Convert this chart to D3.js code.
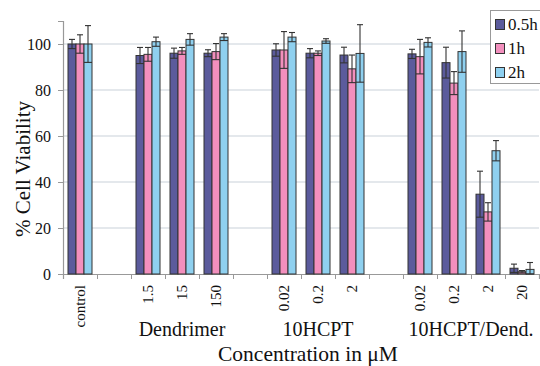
<!DOCTYPE html>
<html>
<head>
<meta charset="utf-8">
<script src="https://cdn.jsdelivr.net/npm/d3@7"></script>
<style>
body { margin: 0; background: #fff; }
svg text { font-family: "Liberation Serif", "DejaVu Serif", serif !important; }
</style>
</head>
<body>
<div id="graph"></div>
<script>
// concentrations along the x axis ("" = empty slot between groups)
const categories = ["control", "", "1.5", "15", "150", "", "0.02", "0.2", "2", "", "0.02", "0.2", "2", "20"];
const groups = [
	{name: "Dendrimer", from: 2, to: 4},
	{name: "10HCPT", from: 6, to: 8},
	{name: "10HCPT/Dend.", from: 10, to: 13}
];
const series = ["0.5h", "1h", "2h"];
const colors = ["#5b5b9c", "#f28fbd", "#8fd0ef"];
const yTicks = [0, 20, 40, 60, 80, 100];

// values, null for the empty slots
const v05 = [100, null, 95, 96, 96, null, 97.4, 96, 95.2, null, 95.7, 91.9, 34.7, 2.5];
const v1 = [100, null, 95.5, 97, 96.7, null, 97.4, 96, 89.2, null, 94.5, 83, 27, 1];
const v2 = [100, null, 101, 102, 103, null, 103, 101.3, 95.9, null, 100.7, 96.7, 53.6, 2];
// error bars (+/-)
const e05 = [2, null, 3.5, 2.2, 1.5, null, 2.7, 2, 3.4, null, 2, 6.7, 10, 1.8];
const e1 = [4, null, 3, 1.5, 3.5, null, 8, 1, 6, null, 7.5, 5, 4, 0.5];
const e2 = [8, null, 2, 2.5, 1.5, null, 2, 1, 12.5, null, 2, 9, 4.4, 3];

const width = 540, height = 366;
const plot_left = 63, plot_right = 539, plot_top = 21, plot_bottom = 274;
const serif = "'Liberation Serif', 'DejaVu Serif', serif";

const svg = d3.select("#graph").append("svg").attr("width", width).attr("height", height)
	.style("font-family", serif);

const y = d3.scaleLinear().domain([0, 110]).range([plot_bottom, plot_top]);
const x = d3.scaleBand().domain(d3.range(categories.length)).range([plot_left, plot_right]);
const xs = d3.scaleBand().domain(series).range([5, x.bandwidth() - 5]);
const xEdge = d3.scaleLinear().domain([0, categories.length]).range([plot_left, plot_right]);

// grid lines
svg.append("g").selectAll("line").data(yTicks.filter(d => d > 0)).join("line")
	.attr("x1", plot_left).attr("x2", plot_right)
	.attr("y1", d => y(d)).attr("y2", d => y(d))
	.attr("stroke", "#c9d2da").attr("stroke-width", 1.2);

// y axis
const yaxis = svg.append("g").attr("transform", `translate(${plot_left},0)`)
	.call(d3.axisLeft(y).tickValues(yTicks).tickSize(5).tickPadding(7));
yaxis.attr("font-family", null).attr("font-size", 16);
yaxis.select(".domain").attr("stroke", "#999").attr("stroke-width", 1.2);
yaxis.selectAll(".tick line").attr("stroke", "#999");
yaxis.selectAll("text").attr("fill", "#111").style("font-family", serif);

// x axis: ticks at slot borders
const xaxis = svg.append("g").attr("transform", `translate(0,${plot_bottom})`)
	.call(d3.axisBottom(xEdge).tickValues(d3.range(categories.length + 1)).tickSize(5).tickFormat(""));
xaxis.select(".domain").attr("stroke", "#999").attr("stroke-width", 1.2);
xaxis.selectAll(".tick line").attr("stroke", "#999");

// bars
const all = [v05, v1, v2];
const errs = [e05, e1, e2];
const rows = [];
series.forEach((s, si) => {
	categories.forEach((c, ci) => {
		if (all[si][ci] != null) rows.push({s: s, si: si, ci: ci, v: all[si][ci], e: errs[si][ci]});
	});
});

const bw = xs.bandwidth();
svg.append("g").selectAll("rect").data(rows).join("rect")
	.attr("x", d => x(d.ci) + xs(d.s))
	.attr("y", d => y(d.v))
	.attr("width", bw)
	.attr("height", d => y(0) - y(d.v))
	.attr("fill", d => colors[d.si])
	.attr("stroke", "#333").attr("stroke-width", 1);

// error bars
const eb = svg.append("g").attr("stroke", "#333").attr("stroke-width", 1.1);
rows.forEach(d => {
	let cx = x(d.ci) + xs(d.s) + bw / 2;
	let hi = y(d.v + d.e), lo = y(Math.max(d.v - d.e, 0));
	eb.append("line").attr("x1", cx).attr("x2", cx).attr("y1", hi).attr("y2", lo);
	eb.append("line").attr("x1", cx - 3).attr("x2", cx + 3).attr("y1", hi).attr("y2", hi);
	eb.append("line").attr("x1", cx - bw / 2).attr("x2", cx + bw / 2).attr("y1", lo).attr("y2", lo);
});

// category labels, rotated
svg.append("g").selectAll("text").data(categories.map((c, i) => ({c: c, i: i})).filter(d => d.c != "")).join("text")
	.attr("transform", d => `translate(${x(d.i) + x.bandwidth() / 2 + 5},${plot_bottom + 11}) rotate(-90)`)
	.attr("text-anchor", "end")
	.style("font-family", serif)
	.attr("font-size", 15)
	.attr("fill", "#111")
	.text(d => d.c);

// group labels
svg.append("g").selectAll("text").data(groups).join("text")
	.attr("x", d => (xEdge(d.from) + xEdge(d.to + 1)) / 2)
	.attr("y", 336)
	.attr("text-anchor", "middle")
	.style("font-family", serif)
	.attr("font-size", 20)
	.attr("fill", "#111")
	.text(d => d.name);

svg.append("text")
	.attr("x", 308).attr("y", 361)
	.attr("text-anchor", "middle")
	.style("font-family", serif)
	.attr("font-size", 21.5)
	.attr("fill", "#111")
	.text("Concentration in μM");

svg.append("text")
	.attr("transform", "translate(30,169) rotate(-90)")
	.attr("text-anchor", "middle")
	.style("font-family", serif)
	.attr("font-size", 21)
	.attr("fill", "#111")
	.text("% Cell Viability");

// legend
const legend = svg.append("g").attr("transform", "translate(490,10)");
legend.append("rect").attr("x", 0.5).attr("y", 0.5).attr("width", 60).attr("height", 73)
	.attr("fill", "#fff").attr("stroke", "#999");
series.forEach((s, i) => {
	legend.append("rect").attr("x", 5.5).attr("y", 9.5 + i * 24).attr("width", 9).attr("height", 10)
		.attr("fill", colors[i]).attr("stroke", "#333");
	legend.append("text").attr("x", 18).attr("y", 20 + i * 24)
		.style("font-family", serif).attr("font-size", 17).attr("fill", "#111").text(s);
});
</script>
</body>
</html>
